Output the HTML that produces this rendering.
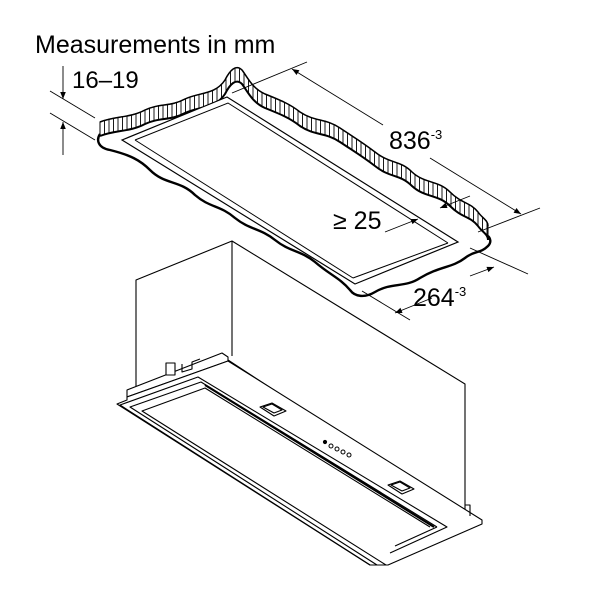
<!DOCTYPE html>
<html><head><meta charset="utf-8"><style>
html,body{margin:0;padding:0;background:#fff;}
svg{display:block}
text{font-family:"Liberation Sans",sans-serif;fill:#000}
</style></head><body>
<svg width="600" height="600" viewBox="0 0 600 600" xmlns="http://www.w3.org/2000/svg">
<defs>
<pattern id="h" width="4.5" height="20" patternUnits="userSpaceOnUse"><rect width="4.5" height="20" fill="#fff"/><line x1="1" y1="0" x2="1" y2="20" stroke="#000" stroke-width="0.9"/></pattern>
<marker id="a" viewBox="0 0 10 10" refX="10" refY="5" markerWidth="10" markerHeight="7" orient="auto-start-reverse" markerUnits="userSpaceOnUse"><path d="M0,1 L10,5 L0,9 z" fill="#000"/></marker>
</defs>

<path d="M100,122 C115,116 130,118 145,110 C160,103 170,107 185,99 C200,92 215,95 225,80 C230,70 236,64 242,70 C248,78 252,88 265,94 C280,100 290,104 300,112 C315,122 325,118 340,128 C355,138 362,142 375,152 C390,164 400,160 412,172 C425,184 438,180 450,192 C462,204 470,202 478,212 C482,218 488,220 488,226 L488,240 C488,234 482,232 478,226 C470,216 462,218 450,206 C438,194 425,198 412,186 C400,174 390,178 375,166 C362,156 355,152 340,142 C325,132 315,136 300,126 C290,118 280,114 265,108 C252,102 248,92 242,84 C236,78 230,84 225,94 C215,109 200,106 185,113 C170,121 160,117 145,124 C130,132 115,130 100,136 Z" fill="url(#h)" stroke="#000" stroke-width="1"/>
<path d="M100,122 C115,116 130,118 145,110 C160,103 170,107 185,99 C200,92 215,95 225,80 C230,70 236,64 242,70 C248,78 252,88 265,94 C280,100 290,104 300,112 C315,122 325,118 340,128 C355,138 362,142 375,152 C390,164 400,160 412,172 C425,184 438,180 450,192 C462,204 470,202 478,212 C482,218 488,220 488,226" fill="none" stroke="#000" stroke-width="1.5"/>
<path d="M100,134 C96,140 98,148 110,150 C130,155 140,160 150,170 C165,185 180,180 195,195 C210,208 220,205 235,218 C250,230 260,228 275,240 C290,252 300,250 315,262 C330,275 340,278 350,290 C355,297 365,298 375,292 C392,282 405,288 420,278 C440,266 452,268 465,258 C475,250 480,254 488,246 C492,242 490,238 488,236" fill="none" stroke="#000" stroke-width="2.4"/>
<path d="M100,136 C115,130 130,132 145,124 C160,117 170,121 185,113 C200,106 215,109 225,94 C230,84 236,78 242,84 C248,92 252,102 265,108 C280,114 290,118 300,126 C315,136 325,132 340,142 C355,152 362,156 375,166 C390,178 400,174 412,186 C425,198 438,194 450,206 C462,218 470,216 478,226 C482,232 488,234 488,240" fill="none" stroke="#000" stroke-width="2"/>
<polygon points="122,140 227,97 458,242 355,284" fill="#fff" stroke="#000" stroke-width="1.2"/>
<polyline points="135,140 228,103 448,243" fill="none" stroke="#000" stroke-width="1"/>
<line x1="135" y1="140" x2="353" y2="278" stroke="#000" stroke-width="1"/>
<line x1="353" y1="278" x2="448" y2="243" stroke="#000" stroke-width="1"/>

<g stroke="#000" fill="none" stroke-width="0.9">
<line x1="50" y1="91" x2="95" y2="118"/><line x1="50" y1="113" x2="95" y2="140"/>
<line x1="63" y1="66" x2="63" y2="99" marker-end="url(#a)"/>
<line x1="63" y1="155" x2="63" y2="122" marker-end="url(#a)"/>
<line x1="232" y1="93" x2="307" y2="62"/><line x1="478" y1="232" x2="540" y2="208"/>
<line x1="383" y1="125" x2="292" y2="69" marker-end="url(#a)"/>
<line x1="430" y1="158" x2="521" y2="214" marker-end="url(#a)"/>
<line x1="470" y1="196" x2="440" y2="208" marker-end="url(#a)"/>
<line x1="385" y1="232" x2="418" y2="219" marker-end="url(#a)"/>
<line x1="362" y1="291" x2="410" y2="320"/><line x1="470" y1="248" x2="528" y2="274"/>
<line x1="432" y1="298" x2="395" y2="313" marker-end="url(#a)"/>
<line x1="470" y1="276" x2="494" y2="267" marker-end="url(#a)"/>
</g>

<g stroke="#000" stroke-width="1.1" fill="#fff" stroke-linejoin="round">
<polygon points="136,280 232,241 465,384 465,515 228,360 136,397"/>
<line x1="232" y1="241" x2="232" y2="356"/>
<polygon points="127,390 222,353 228,357 228,361 127,397"/>
<polygon points="117,404 127,400 127,397 228,361 482,520 482,524 388,565 370,565"/>
<polyline points="370,565 120,405 198,377 447,527 390,553" fill="none"/>
<polyline points="377,565 130,407 201,382 437,527" fill="none"/>
<polyline points="386,565 142,411 205,388 430,527" fill="none"/>
<line x1="205" y1="385" x2="434" y2="527" stroke-width="2"/>
<line x1="437" y1="527" x2="395" y2="546"/>
<polygon points="260,407 272,403 286,411 274,416"/>
<polygon points="263,407 272,404 282,410 274,413" fill="none"/>
<polygon points="388,485 400,481 414,489 402,494"/>
<polygon points="391,485 400,482 410,488 402,491" fill="none"/>
<rect x="166" y="363" width="9" height="12"/>
<polyline points="182,364 182,372 192,369 192,362 200,359" fill="none"/>
<polyline points="465,505 470,505 470,516" fill="none"/>
</g>
<g fill="#fff" stroke="#000" stroke-width="1">
<circle cx="325" cy="442" r="1.6" fill="#000"/>
<circle cx="331" cy="446" r="2"/><circle cx="337" cy="449" r="2"/><circle cx="343" cy="452" r="2"/><circle cx="349" cy="455" r="2"/>
</g>

<text x="35" y="53" font-size="25">Measurements in mm</text>
<text x="72" y="88" font-size="24">16–19</text>
<text x="389" y="149" font-size="25">836<tspan font-size="13" dy="-10">-3</tspan></text>
<text x="333" y="229" font-size="25">≥ 25</text>
<text x="413" y="306" font-size="25">264<tspan font-size="13" dy="-10">-3</tspan></text>
</svg>
</body></html>
